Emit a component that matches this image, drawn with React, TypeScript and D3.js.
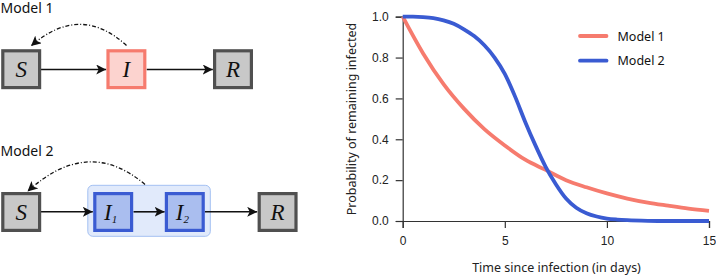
import React, { useEffect, useRef } from "react";
import * as d3 from "d3";

const model1Days = [0, 1, 2, 3, 4, 5, 6, 7, 8, 9, 10, 11, 12, 13, 14, 15];
const model1Values = [1.0, 0.82, 0.67, 0.55, 0.45, 0.37, 0.3, 0.25, 0.2, 0.165, 0.135, 0.11, 0.09, 0.075, 0.061, 0.05];
const model2Days = [0, 0.5, 1, 1.5, 2, 2.5, 3, 3.5, 4, 4.5, 5, 5.5, 6, 6.5, 7, 7.5, 8, 8.5, 9, 9.5, 10, 10.5, 11, 12, 13, 14, 15];
const model2Values = [1.0, 1.0, 0.998, 0.993, 0.982, 0.965, 0.938, 0.905, 0.86, 0.8, 0.72, 0.61, 0.485, 0.37, 0.265, 0.18, 0.11, 0.065, 0.038, 0.022, 0.012, 0.007, 0.004, 0.001, 0, 0, 0];
const xTicks = [0, 5, 10, 15];
const yTicks = [0, 0.2, 0.4, 0.6, 0.8, 1.0];
const seriesNames = ["Model 1", "Model 2"];

const RED = "#F67B6E";
const BLUE = "#3A5BD2";

export default function App() {
  const ref = useRef<SVGSVGElement>(null);

  useEffect(() => {
    const svg = d3.select(ref.current);
    svg.selectAll("*").remove();

    const x = d3.scaleLinear().domain([0, 15]).range([402.7, 709]);
    const y = d3.scaleLinear().domain([0, 1]).range([221, 16.7]);

    const defs = svg.append("defs");
    defs
      .append("marker")
      .attr("id", "ah")
      .attr("viewBox", "0 0 10 10")
      .attr("refX", 10)
      .attr("refY", 5)
      .attr("markerWidth", 10)
      .attr("markerHeight", 10)
      .attr("markerUnits", "userSpaceOnUse")
      .attr("orient", "auto")
      .append("path")
      .attr("d", "M0,0 L10,5 L0,10 L2.5,5 Z")
      .attr("fill", "#111");

    // ---------- Chart ----------
    const g = svg.append("g");
    const yAxis = d3
      .axisLeft(y)
      .tickValues(yTicks)
      .tickFormat(d3.format(".1f"))
      .tickSize(7)
      .tickPadding(7);
    const ya = g.append("g").attr("transform", `translate(${x(0)},0)`).call(yAxis);
    ya.select(".domain").attr("stroke", "#333").attr("stroke-width", 1.2);
    ya.selectAll(".tick line").attr("stroke", "#333").attr("stroke-width", 1.2);
    ya.selectAll("text")
      .attr("font-family", "Liberation Sans, Arial, sans-serif")
      .attr("font-size", 12)
      .attr("fill", "#222");

    const xAxis = d3.axisBottom(x).tickValues(xTicks).tickFormat(d3.format("d")).tickSize(7).tickPadding(8);
    const xa = g.append("g").attr("transform", `translate(0,${y(0)})`).call(xAxis);
    xa.select(".domain").attr("stroke", "#333").attr("stroke-width", 1.2);
    xa.selectAll(".tick line").attr("stroke", "#333").attr("stroke-width", 1.2);
    xa.selectAll("text")
      .attr("font-family", "Liberation Sans, Arial, sans-serif")
      .attr("font-size", 12)
      .attr("fill", "#222");

    g.append("text")
      .attr("transform", `translate(351,119) rotate(-90)`)
      .attr("text-anchor", "middle")
      .attr("dominant-baseline", "central")
      .attr("font-family", "Noto Sans, sans-serif")
      .attr("font-size", 12.5)
      .attr("fill", "#222")
      .text("Probability of remaining infected");

    g.append("text")
      .attr("x", 556.5)
      .attr("y", 267)
      .attr("text-anchor", "middle")
      .attr("dominant-baseline", "central")
      .attr("font-family", "Noto Sans, sans-serif")
      .attr("font-size", 12.5)
      .attr("fill", "#222")
      .text("Time since infection (in days)");

    const line = d3
      .line<[number, number]>()
      .x((d) => x(d[0]))
      .y((d) => y(d[1]))
      .curve(d3.curveMonotoneX);

    const s1: [number, number][] = model1Days.map((d, i) => [d, model1Values[i]]);
    const s2: [number, number][] = model2Days.map((d, i) => [d, model2Values[i]]);

    g.append("path").attr("d", line(s1)).attr("fill", "none").attr("stroke", RED).attr("stroke-width", 3.8);
    g.append("path").attr("d", line(s2)).attr("fill", "none").attr("stroke", BLUE).attr("stroke-width", 3.8);

    const colors = [RED, BLUE];
    seriesNames.forEach((name, i) => {
      const ly = 36 + i * 24.7;
      g.append("line")
        .attr("x1", 580)
        .attr("x2", 606.5)
        .attr("y1", ly)
        .attr("y2", ly)
        .attr("stroke", colors[i])
        .attr("stroke-width", 3.8)
        .attr("stroke-linecap", "round");
      g.append("text")
        .attr("x", 617.5)
        .attr("y", ly)
        .attr("dominant-baseline", "central")
        .attr("font-family", "Noto Sans, sans-serif")
        .attr("font-size", 12.5)
        .attr("fill", "#111")
        .text(name);
    });

    // ---------- Diagrams ----------
    const dg = svg.append("g");
    const labelFont = "Liberation Serif, Times New Roman, serif";

    const box = (x0: number, y0: number, fill: string, stroke: string, label: string, sub?: string) => {
      dg.append("rect")
        .attr("x", x0 + 1.6)
        .attr("y", y0 + 1.6)
        .attr("width", 36.8)
        .attr("height", 36.8)
        .attr("fill", fill)
        .attr("stroke", stroke)
        .attr("stroke-width", 3.2);
      const t = dg
        .append("text")
        .attr("x", x0 + 20 - (sub ? 2.5 : 0))
        .attr("y", y0 + 28)
        .attr("text-anchor", "middle")
        .attr("font-family", labelFont)
        .attr("font-style", "italic")
        .attr("font-size", 23)
        .attr("fill", "#111")
        .text(label);
      if (sub) {
        t.append("tspan").attr("font-size", 11).attr("dy", 3).text(sub);
      }
    };

    const arrow = (x1: number, x2: number, yy: number) => {
      dg.append("line")
        .attr("x1", x1)
        .attr("x2", x2)
        .attr("y1", yy)
        .attr("y2", yy)
        .attr("stroke", "#111")
        .attr("stroke-width", 1.6)
        .attr("marker-end", "url(#ah)");
    };

    const title = (ty: number, text: string) => {
      dg.append("text")
        .attr("x", 0.5)
        .attr("y", ty)
        .attr("font-family", "Noto Sans, sans-serif")
        .attr("font-size", 14)
        .attr("fill", "#111")
        .text(text);
    };

    // Model 1
    title(13, "Model 1");
    dg.append("path")
      .attr("d", "M126.5,45.5 Q80,3 31,46")
      .attr("fill", "none")
      .attr("stroke", "#111")
      .attr("stroke-width", 1.3)
      .attr("stroke-dasharray", "4,2,1,2")
      .attr("marker-end", "url(#ah)");
    arrow(40.7, 106.2, 69.5);
    arrow(146.7, 212.8, 69.5);
    box(1.2, 49.2, "#C8C8C8", "#505050", "S");
    box(106.4, 49.2, "#FCD3CF", RED, "I");
    box(213, 49.2, "#C8C8C8", "#505050", "R");

    // Model 2
    title(156, "Model 2");
    dg.append("rect")
      .attr("x", 87.8)
      .attr("y", 185.3)
      .attr("width", 122.5)
      .attr("height", 51)
      .attr("rx", 5)
      .attr("fill", "#E1EAFB")
      .attr("stroke", "#A3C0F2")
      .attr("stroke-width", 1);
    dg.append("path")
      .attr("d", "M145,184.5 Q88,136 27.5,191.5")
      .attr("fill", "none")
      .attr("stroke", "#111")
      .attr("stroke-width", 1.3)
      .attr("stroke-dasharray", "4,2,1,2")
      .attr("marker-end", "url(#ah)");
    arrow(40.7, 92.8, 211.8);
    arrow(133.5, 164.6, 211.8);
    arrow(204.8, 257.2, 211.8);
    box(1.2, 192, "#C8C8C8", "#505050", "S");
    box(93.2, 192, "#AABEEF", BLUE, "I", "1");
    box(164.8, 192, "#AABEEF", BLUE, "I", "2");
    box(257.6, 192, "#C8C8C8", "#505050", "R");
  }, []);

  return (
    <svg
      ref={ref}
      width={716}
      height={276}
      style={{ position: "absolute", left: 0, top: 0, background: "#fff" }}
    />
  );
}
